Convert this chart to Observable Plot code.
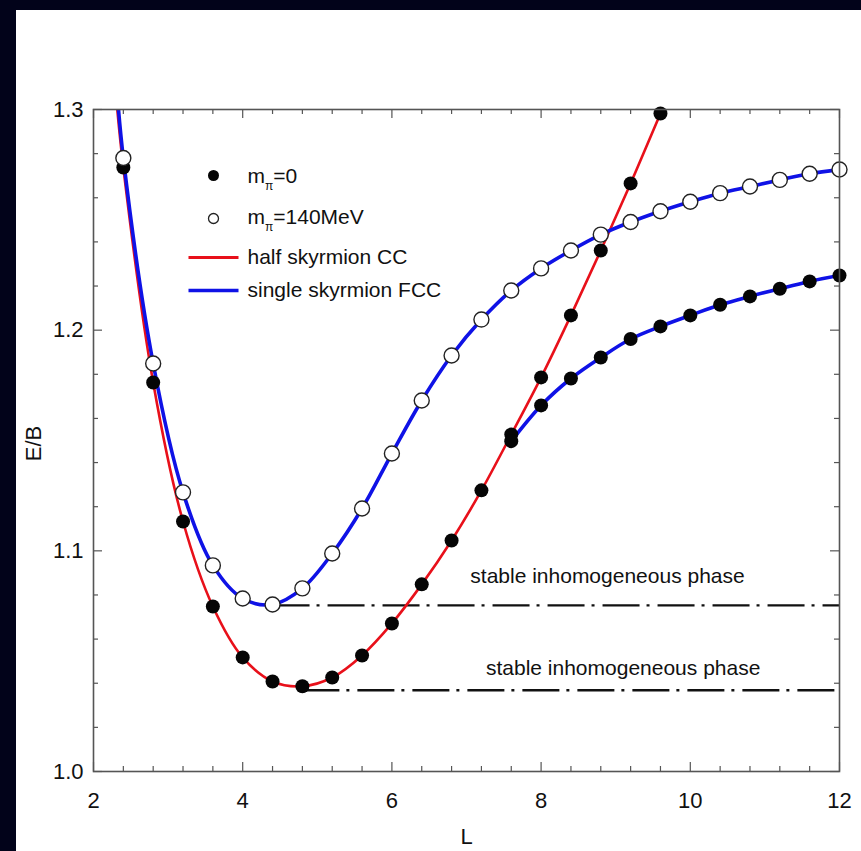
<!DOCTYPE html>
<html>
<head>
<meta charset="utf-8">
<script src="https://cdn.jsdelivr.net/npm/d3@7"></script>
<script src="https://cdn.jsdelivr.net/npm/@observablehq/plot@0.6"></script>
<style>
  html, body { margin: 0; padding: 0; background: #02031a; width: 861px; height: 851px; overflow: hidden; }
  #panel { position: absolute; left: 16px; top: 10px; width: 845px; height: 841px; background: #ffffff; }
</style>
</head>
<body>
<div id="panel"></div>
<script>
// ---- data ----
const L_all = [2.4, 2.8, 3.2, 3.6, 4.0, 4.4, 4.8, 5.2, 5.6, 6.0, 6.4, 6.8, 7.2, 7.6, 8.0, 8.4, 8.8, 9.2, 9.6, 10.0, 10.4, 10.8, 11.2, 11.6, 12.0];
// m_pi = 140 MeV (open circles), single skyrmion FCC
const E_open = [1.278, 1.1849, 1.1265, 1.0934, 1.0784, 1.0757, 1.0830, 1.0988, 1.1192, 1.1441, 1.1681, 1.1885, 1.2048, 1.2180, 1.2280, 1.2361, 1.2433, 1.2490, 1.2539, 1.2582, 1.2621, 1.2651, 1.2681, 1.2709, 1.2728];
// m_pi = 0 (filled), half skyrmion CC
const L_half = [2.4, 2.8, 3.2, 3.6, 4.0, 4.4, 4.8, 5.2, 5.6, 6.0, 6.4, 6.8, 7.2, 7.6, 8.0, 8.4, 8.8, 9.2, 9.6];
const E_half = [1.2737, 1.1763, 1.1133, 1.0748, 1.0517, 1.0408, 1.0386, 1.0426, 1.0526, 1.0671, 1.0848, 1.1047, 1.1274, 1.1527, 1.1786, 1.2067, 1.2361, 1.2665, 1.2982];
// m_pi = 0 (filled), single skyrmion FCC
const L_fcc0 = [7.6, 8.0, 8.4, 8.8, 9.2, 9.6, 10.0, 10.4, 10.8, 11.2, 11.6, 12.0];
const E_fcc0 = [1.1497, 1.1659, 1.1781, 1.1876, 1.1960, 1.2017, 1.2067, 1.2115, 1.2153, 1.2188, 1.2221, 1.2248];
// where the curves leave the frame
const halfTailStart = [2.3, 1.307];
const halfTailEnd = [9.7, 1.306];
const openTailStart = [2.3, 1.315];
// stable inhomogeneous phase levels
const phaseLevels = [
  {E: 1.0753, from: 4.4, to: 12},
  {E: 1.0368, from: 4.8, to: 12}
];
const phaseNotes = [
  {text: "stable inhomogeneous phase", L: 8.89, E: 1.0883},
  {text: "stable inhomogeneous phase", L: 9.10, E: 1.0466}
];
// ticks
const xMajor = [2, 4, 6, 8, 10, 12];
const xMinor = [2.4, 2.8, 3.2, 3.6, 4.4, 4.8, 5.2, 5.6, 6.4, 6.8, 7.2, 7.6, 8.4, 8.8, 9.2, 9.6, 10.4, 10.8, 11.2, 11.6];
const yMajor = [1.0, 1.1, 1.2, 1.3];
const yMinor = [1.02, 1.04, 1.06, 1.08, 1.12, 1.14, 1.16, 1.18, 1.22, 1.24, 1.26, 1.28];
const legendLabels = ["mπ=0", "mπ=140MeV", "half skyrmion CC", "single skyrmion FCC"];

// ---- build tables ----
const openPts = L_all.map((L, i) => ({L, E: E_open[i]}));
const halfPts = L_half.map((L, i) => ({L, E: E_half[i]}));
const fcc0Pts = L_fcc0.map((L, i) => ({L, E: E_fcc0[i]}));
const halfLine = [{L: halfTailStart[0], E: halfTailStart[1]}, ...halfPts, {L: halfTailEnd[0], E: halfTailEnd[1]}];
const openLine = [{L: openTailStart[0], E: openTailStart[1]}, ...openPts];

const W = 845, H = 841;
const mL = 77, mR = 22, mT = 99, mB = 80;
const innerW = W - mL - mR, innerH = H - mT - mB;
const FONT = "'Liberation Sans', Arial, sans-serif";
const FS = 21;
const frameColor = "#555";
const RED = "#e8101a", BLUE = "#0f12e6";

const lineSymbol = { draw(ctx) { ctx.moveTo(-25, 0); ctx.lineTo(25, 0); } };
const rowDy = [67, 108, 148, 181];

function legendText(i) {
  return Plot.text([legendLabels[i]], {frameAnchor: "top-left", dx: 154, dy: rowDy[i], text: d => d,
    textAnchor: "start", lineAnchor: "middle", fontSize: FS, fill: "#111"});
}

const chart = Plot.plot({
  width: W, height: H,
  marginLeft: mL, marginRight: mR, marginTop: mT, marginBottom: mB,
  style: {fontFamily: FONT, fontSize: FS + "px", background: "#ffffff", color: "#111"},
  x: {domain: [2, 12]},
  y: {domain: [1.0, 1.3]},
  marks: [
    // inward ticks on all four sides
    Plot.tickX(xMinor, {x: d => d, insetTop: innerH - 5, stroke: frameColor, strokeWidth: 1.2}),
    Plot.tickX(xMinor, {x: d => d, insetBottom: innerH - 5, stroke: frameColor, strokeWidth: 1.2}),
    Plot.tickX(xMajor, {x: d => d, insetTop: innerH - 9, stroke: frameColor, strokeWidth: 1.2}),
    Plot.tickX(xMajor, {x: d => d, insetBottom: innerH - 9, stroke: frameColor, strokeWidth: 1.2}),
    Plot.tickY(yMinor, {y: d => d, insetRight: innerW - 5, stroke: frameColor, strokeWidth: 1.2}),
    Plot.tickY(yMinor, {y: d => d, insetLeft: innerW - 5, stroke: frameColor, strokeWidth: 1.2}),
    Plot.tickY(yMajor, {y: d => d, insetRight: innerW - 9, stroke: frameColor, strokeWidth: 1.2}),
    Plot.tickY(yMajor, {y: d => d, insetLeft: innerW - 9, stroke: frameColor, strokeWidth: 1.2}),
    Plot.axisX({ticks: xMajor, tickSize: 0, tickPadding: 21, label: null, fontSize: 22, fill: "#111"}),
    Plot.axisY({ticks: yMajor, tickSize: 0, tickPadding: 10, label: null, tickFormat: d3.format(".1f"), fontSize: 22, fill: "#111"}),
    Plot.text(["L"], {frameAnchor: "bottom", dy: 65, lineAnchor: "middle", textAnchor: "middle", fontSize: 22, fill: "#111"}),
    Plot.text(["E/B"], {frameAnchor: "left", dx: -60, dy: 3, rotate: -90, lineAnchor: "middle", textAnchor: "middle", fontSize: 22, fill: "#111"}),
    // stable phase dash-dot levels
    Plot.link(phaseLevels, {x1: "from", x2: "to", y1: "E", y2: "E", stroke: "#111", strokeWidth: 2.4, strokeDasharray: "37,7,3,8", clip: true}),
    Plot.text(phaseNotes, {x: "L", y: "E", text: "text", fontSize: FS, fill: "#111"}),
    // curves
    Plot.line(halfLine, {x: "L", y: "E", stroke: RED, strokeWidth: 2.6, curve: "catmull-rom", clip: true}),
    Plot.line(openLine, {x: "L", y: "E", stroke: BLUE, strokeWidth: 3.6, curve: "catmull-rom", clip: true}),
    Plot.line(fcc0Pts, {x: "L", y: "E", stroke: BLUE, strokeWidth: 3.6, curve: "catmull-rom", clip: true}),
    // points
    Plot.dot(halfPts, {x: "L", y: "E", r: 7, fill: "#050505"}),
    Plot.dot(fcc0Pts, {x: "L", y: "E", r: 7, fill: "#050505"}),
    Plot.dot(openPts, {x: "L", y: "E", r: 7.5, fill: "#ffffff", stroke: "#222", strokeWidth: 1.4}),
    Plot.frame({stroke: frameColor, strokeWidth: 1.6}),
    // legend
    Plot.dot([legendLabels[0]], {frameAnchor: "top-left", dx: 120, dy: 66, r: 5.5, fill: "#050505"}),
    Plot.dot([legendLabels[1]], {frameAnchor: "top-left", dx: 120, dy: 109, r: 5, fill: "#fff", stroke: "#222", strokeWidth: 1.3}),
    Plot.dot([legendLabels[2]], {frameAnchor: "top-left", dx: 120, dy: 148, symbol: lineSymbol, r: 4, stroke: RED, strokeWidth: 3.2, fill: "none"}),
    Plot.dot([legendLabels[3]], {frameAnchor: "top-left", dx: 120, dy: 181, symbol: lineSymbol, r: 4, stroke: BLUE, strokeWidth: 3.6, fill: "none"}),
    legendText(0), legendText(1), legendText(2), legendText(3)
  ]
});

// subscript pi
d3.select(chart).selectAll("text").each(function() {
  const s = this.textContent;
  if (s.includes("π")) {
    const [a, b] = s.split("π");
    const sel = d3.select(this);
    sel.text(null);
    sel.append("tspan").text(a);
    sel.append("tspan").attr("font-size", 12).attr("dy", 7).text("π");
    sel.append("tspan").attr("dy", -7).text(b);
  }
});

document.getElementById("panel").appendChild(chart);
</script>
</body>
</html>
